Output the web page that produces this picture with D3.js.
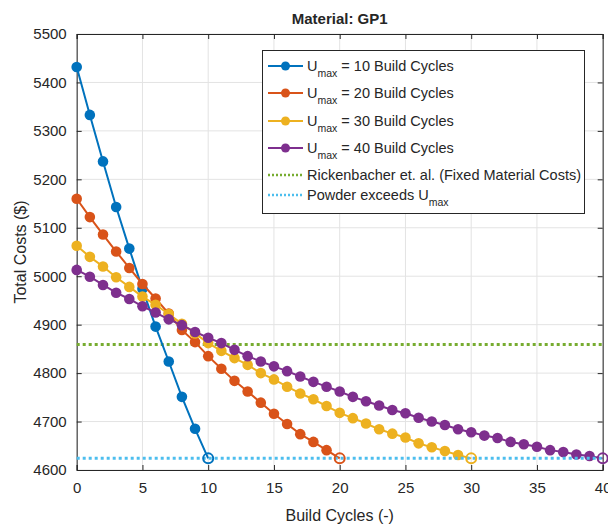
<!DOCTYPE html>
<html>
<head>
<meta charset="utf-8">
<script src="https://cdn.jsdelivr.net/npm/d3@7"></script>
<style>
  body { margin: 0; background: #fff; }
  svg text { font-family: "Liberation Sans", Arial, sans-serif; fill: #262626; }
</style>
</head>
<body>
<div id="chart"></div>
<script>
// Data
const cost10 = [5432, 5333, 5237, 5143, 5057, 4974, 4896, 4824, 4751, 4685, 4624];
const cost20 = [5160, 5122, 5086, 5051, 5017, 4984, 4954, 4923, 4889, 4864, 4835,
                4809, 4784, 4762, 4739, 4716, 4695, 4674, 4658, 4641, 4624];
const cost30 = [5063, 5040, 5020, 4998, 4978, 4958, 4941, 4922, 4902, 4882, 4862,
                4846, 4831, 4817, 4800, 4787, 4772, 4758, 4746, 4732, 4718,
                4707, 4696, 4684, 4675, 4667, 4655, 4647, 4639, 4631, 4624];
const cost40 = [5013, 4999, 4982, 4966, 4953, 4938, 4925, 4911, 4899, 4885, 4873,
                4862, 4848, 4835, 4824, 4814, 4804, 4793, 4782, 4772, 4762,
                4751, 4742, 4733, 4724, 4717, 4708, 4700, 4693, 4684, 4678,
                4671, 4666, 4658, 4653, 4648, 4641, 4637, 4632, 4629, 4624];
const fixedCost = 4859;     // Rickenbacher et. al.
const exceedCost = 4624;    // powder exceeds Umax
const xTicks = [0, 5, 10, 15, 20, 25, 30, 35, 40];
const yTicks = [4600, 4700, 4800, 4900, 5000, 5100, 5200, 5300, 5400, 5500];

const seriesNames = ["10", "20", "30", "40"];
const seriesData = [cost10, cost20, cost30, cost40];
const colors = ["#0072BD", "#D95319", "#EDB120", "#7E2F8E"];

const width = 608, height = 527;
const margin = {left: 76.7, right: 5.3, top: 34, bottom: 57};

const svg = d3.select("#chart").append("svg")
    .attr("width", width)
    .attr("height", height);

const x = d3.scaleLinear().domain([0, 40]).range([margin.left, width - margin.right]);
const y = d3.scaleLinear().domain([4600, 5500]).range([height - margin.bottom, margin.top]);

// Grid
svg.append("g").selectAll("line.gx")
    .data(xTicks).enter().append("line")
    .attr("x1", d => x(d)).attr("x2", d => x(d))
    .attr("y1", y(4600)).attr("y2", y(5500))
    .attr("stroke", "#e3e3e3").attr("stroke-width", 1);
svg.append("g").selectAll("line.gy")
    .data(yTicks).enter().append("line")
    .attr("x1", x(0)).attr("x2", x(40))
    .attr("y1", d => y(d)).attr("y2", d => y(d))
    .attr("stroke", "#e3e3e3").attr("stroke-width", 1);

// Axes (MATLAB style: ticks inside, box on)
const axisColor = "#262626";
const xAxis = d3.axisBottom(x).tickValues(xTicks).tickSize(-5).tickPadding(12);
const yAxis = d3.axisLeft(y).tickValues(yTicks).tickSize(-5).tickPadding(10).tickFormat(d3.format("d"));

const gx = svg.append("g").attr("transform", `translate(0,${y(4600)})`).call(xAxis);
const gy = svg.append("g").attr("transform", `translate(${x(0)},0)`).call(yAxis);
svg.append("g").attr("transform", `translate(0,${y(5500)})`)
    .call(d3.axisTop(x).tickValues(xTicks).tickSize(-5).tickFormat(""));
svg.append("g").attr("transform", `translate(${x(40)},0)`)
    .call(d3.axisRight(y).tickValues(yTicks).tickSize(-5).tickFormat(""));

svg.selectAll(".domain").attr("stroke", axisColor).attr("stroke-width", 1);
svg.selectAll(".tick line").attr("stroke", axisColor);
svg.selectAll(".tick text").style("font-size", "15px").attr("fill", "#333");

// Reference line: fixed material costs
svg.append("line")
    .attr("x1", x(0)).attr("x2", x(40))
    .attr("y1", y(fixedCost)).attr("y2", y(fixedCost))
    .attr("stroke", "#77AC30").attr("stroke-width", 3)
    .attr("stroke-dasharray", "3,3");

// Series
const line = d3.line().x((d, i) => x(i)).y(d => y(d));
seriesData.forEach((data, k) => {
    const g = svg.append("g");
    g.append("path").datum(data)
        .attr("d", line)
        .attr("fill", "none")
        .attr("stroke", colors[k])
        .attr("stroke-width", 2);
    g.selectAll("circle").data(data.slice(0, -1)).enter().append("circle")
        .attr("cx", (d, i) => x(i))
        .attr("cy", d => y(d))
        .attr("r", 5.3)
        .attr("fill", colors[k]);
});

svg.append("line")
    .attr("x1", x(0)).attr("x2", x(40))
    .attr("y1", y(exceedCost)).attr("y2", y(exceedCost))
    .attr("stroke", "#4DBEEE").attr("stroke-width", 3)
    .attr("stroke-dasharray", "3,3");

// Open end markers where powder exceeds Umax
seriesData.forEach((data, k) => {
    const last = data.length - 1;
    svg.append("circle")
        .attr("cx", x(last)).attr("cy", y(data[last]))
        .attr("r", 5)
        .attr("fill", "none")
        .attr("stroke", colors[k])
        .attr("stroke-width", 2);
});

// Title & labels
svg.append("text")
    .attr("x", x(20)).attr("y", 24)
    .attr("text-anchor", "middle")
    .style("font-size", "15px").style("font-weight", "bold")
    .text("Material: GP1");

svg.append("text")
    .attr("x", x(20)).attr("y", 521)
    .attr("text-anchor", "middle")
    .style("font-size", "16px")
    .text("Build Cycles (-)");

svg.append("text")
    .attr("transform", `translate(26,${(y(4600) + y(5500)) / 2}) rotate(-90)`)
    .attr("text-anchor", "middle")
    .style("font-size", "16px")
    .text("Total Costs ($)");

// Legend
const legend = svg.append("g");
legend.append("rect")
    .attr("x", 262.5).attr("y", 50.5)
    .attr("width", 322).attr("height", 163)
    .attr("fill", "#fff").attr("stroke", axisColor).attr("stroke-width", 1);

const rowsY = [66, 93, 121, 148, 175, 195];
const lx1 = 268, lx2 = 303, tx = 307;
const fs = "14.5px";
seriesNames.forEach((name, k) => {
    const ry = rowsY[k];
    legend.append("line")
        .attr("x1", lx1).attr("x2", lx2).attr("y1", ry).attr("y2", ry)
        .attr("stroke", colors[k]).attr("stroke-width", 2);
    legend.append("circle")
        .attr("cx", (lx1 + lx2) / 2).attr("cy", ry).attr("r", 4.5)
        .attr("fill", colors[k]);
    const t = legend.append("text")
        .attr("x", tx).attr("y", ry + 5)
        .style("font-size", fs);
    t.append("tspan").text("U");
    t.append("tspan").attr("dy", 6).style("font-size", "10.5px").text("max");
    t.append("tspan").attr("dy", -6).text(` = ${name} Build Cycles`);
});

legend.append("line")
    .attr("x1", lx1).attr("x2", lx2).attr("y1", rowsY[4]).attr("y2", rowsY[4])
    .attr("stroke", "#77AC30").attr("stroke-width", 2.5).attr("stroke-dasharray", "2,2");
legend.append("text")
    .attr("x", tx).attr("y", rowsY[4] + 5)
    .style("font-size", fs)
    .text("Rickenbacher et. al. (Fixed Material Costs)");

legend.append("line")
    .attr("x1", lx1).attr("x2", lx2).attr("y1", rowsY[5]).attr("y2", rowsY[5])
    .attr("stroke", "#4DBEEE").attr("stroke-width", 2.5).attr("stroke-dasharray", "2,2");
const pt = legend.append("text")
    .attr("x", tx).attr("y", rowsY[5] + 5)
    .style("font-size", fs);
pt.append("tspan").text("Powder exceeds U");
pt.append("tspan").attr("dy", 6).style("font-size", "10.5px").text("max");
</script>
</body>
</html>
